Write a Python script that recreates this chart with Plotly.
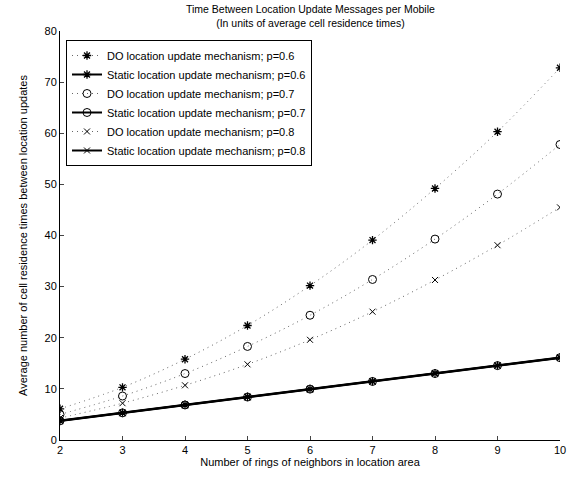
import plotly.graph_objects as go

rings = [2, 3, 4, 5, 6, 7, 8, 9, 10]
do_p06 = [6.1, 10.3, 15.8, 22.4, 30.2, 39.1, 49.2, 60.3, 72.8]
st_p06 = [3.8, 5.35, 6.9, 8.45, 10.0, 11.5, 13.05, 14.6, 16.15]
do_p07 = [5.0, 8.6, 13.0, 18.3, 24.4, 31.4, 39.3, 48.1, 57.8]
st_p07 = [3.75, 5.3, 6.85, 8.4, 9.95, 11.45, 13.0, 14.55, 16.1]
do_p08 = [4.3, 7.2, 10.7, 14.8, 19.6, 25.1, 31.3, 38.1, 45.5]
st_p08 = [3.7, 5.25, 6.8, 8.35, 9.9, 11.4, 12.95, 14.5, 16.05]

names = [
    "DO location update mechanism; p=0.6",
    "Static location update mechanism; p=0.6",
    "DO location update mechanism; p=0.7",
    "Static location update mechanism; p=0.7",
    "DO location update mechanism; p=0.8",
    "Static location update mechanism; p=0.8",
]
series = [do_p06, st_p06, do_p07, st_p07, do_p08, st_p08]
symbols = ["asterisk-open", "asterisk-open", "circle-open", "circle-open", "x-thin-open", "x-thin-open"]
sizes = [7, 7, 8, 8, 6, 6]

fig = go.Figure()
for i, (nm, ys, sym, sz) in enumerate(zip(names, series, symbols, sizes)):
    is_do = i % 2 == 0
    fig.add_trace(go.Scatter(
        x=rings, y=ys, name=nm, mode="lines+markers",
        line=dict(color="#666666" if is_do else "black",
                  width=1 if is_do else 2,
                  dash="1px,4px" if is_do else "solid",
                  shape="spline" if is_do else "linear"),
        marker=dict(symbol=sym, color="black", size=sz,
                    line=dict(color="black", width=1.3 if "asterisk" in sym else 1)),
    ))

fig.update_layout(
    width=572, height=477,
    margin=dict(l=60, r=6, t=31, b=37),
    paper_bgcolor="white", plot_bgcolor="white",
    font=dict(family="Liberation Sans, Arial, sans-serif", size=11, color="black"),
    annotations=[dict(
        text="Time Between Location Update Messages per Mobile<br>(In units of average cell residence times)",
        xref="paper", yref="paper", x=0.5, y=1, xanchor="center", yanchor="bottom",
        yshift=0, showarrow=False, font=dict(size=10.5), align="center")],
    showlegend=True,
    legend=dict(x=0.012, y=0.978, xanchor="left", yanchor="top",
                bordercolor="black", borderwidth=1, bgcolor="white",
                font=dict(size=11), tracegroupgap=0, itemwidth=30),
    xaxis=dict(range=[2, 10], tickvals=rings, ticks="inside", ticklen=4,
               showline=True, linecolor="black", linewidth=1, showgrid=False, zeroline=False,
               ticklabeloverflow="allow",
               title=dict(text="Number of rings of neighbors in location area", standoff=1, font=dict(size=11)),
               tickfont=dict(size=11)),
    yaxis=dict(range=[0, 80], tickvals=[0, 10, 20, 30, 40, 50, 60, 70, 80], ticks="inside", ticklen=4,
               showline=True, linecolor="black", linewidth=1, showgrid=False, zeroline=False,
               title=dict(text="Average number of cell residence times between location updates", standoff=14, font=dict(size=11)),
               tickfont=dict(size=11)),
)

fig.write_html("out.html")
